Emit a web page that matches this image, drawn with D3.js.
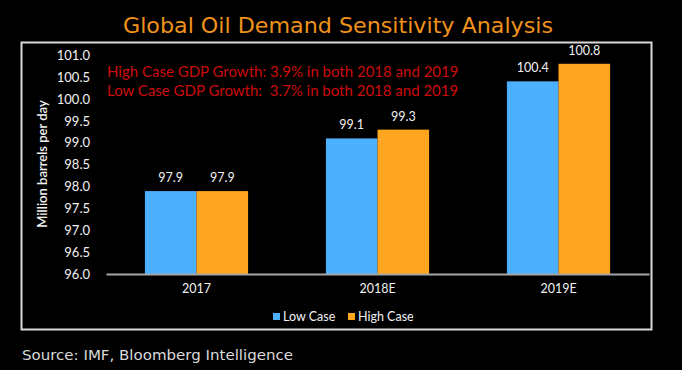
<!DOCTYPE html>
<html>
<head>
<meta charset="utf-8">
<script src="https://cdn.jsdelivr.net/npm/d3@7"></script>
<style>
	html, body { margin: 0; padding: 0; background: #000; }
	svg { display: block; }
</style>
</head>
<body>
<div id="chart"></div>
<script>
// chart values
var categories = ["2017", "2018E", "2019E"];
var seriesNames = ["Low Case", "High Case"];
var lowCase = [97.9, 99.1, 100.4];
var highCase = [97.9, 99.3, 100.8];
var yTicks = [96.0, 96.5, 97.0, 97.5, 98.0, 98.5, 99.0, 99.5, 100.0, 100.5, 101.0];
var notes = [
	"High Case GDP Growth: 3.9% in both 2018 and 2019",
	"Low Case GDP Growth:  3.7% in both 2018 and 2019"
];
var colors = ["#4db0ff", "#ffa51f"];

function makeChart() {
	var width = 682, height = 370;
	var font = "Lato, 'Open Sans', sans-serif";

	var svg = d3.select("#chart").append("svg")
		.attr("width", width)
		.attr("height", height)
		.style("background", "#000");

	// title
	svg.append("text")
		.attr("x", 338).attr("y", 33)
		.attr("text-anchor", "middle")
		.attr("fill", "#f0921c")
		.style("font-family", "'DejaVu Sans', sans-serif")
		.style("font-size", "21px")
		.attr("textLength", 430)
		.attr("lengthAdjust", "spacingAndGlyphs")
		.text("Global Oil Demand Sensitivity Analysis");

	// frame
	svg.append("rect")
		.attr("x", 21.5).attr("y", 42.5)
		.attr("width", 630).attr("height", 287)
		.attr("fill", "none")
		.attr("stroke", "#d9d9d9")
		.attr("stroke-width", 2);

	var y = d3.scaleLinear().domain([96, 101]).range([274.5, 55]);
	var x = d3.scaleBand().domain(categories).range([106, 649])
		.paddingInner(0.43).paddingOuter(0.215);
	var xs = d3.scaleBand().domain(seriesNames).range([0, x.bandwidth()]);

	// y labels
	var yAxis = svg.append("g")
		.attr("transform", "translate(90,0)")
		.call(d3.axisLeft(y).tickValues(yTicks).tickSize(0).tickPadding(0)
			.tickFormat(d3.format(".1f")));
	yAxis.select(".domain").remove();
	yAxis.selectAll("text")
		.attr("fill", "#f2f2f2")
		.style("font-family", font)
		.style("font-size", "13px");

	// y title
	svg.append("text")
		.attr("transform", "translate(47,164)rotate(-90)")
		.attr("text-anchor", "middle")
		.attr("fill", "#f2f2f2")
		.style("font-family", font)
		.style("font-size", "13px")
		.style("font-weight", "600")
		.text("Million barrels per day");

	// bars
	var rows = categories.map((c, i) => ({
		cat: c,
		vals: [
			{ name: seriesNames[0], v: lowCase[i], color: colors[0] },
			{ name: seriesNames[1], v: highCase[i], color: colors[1] }
		]
	}));

	var groups = svg.append("g").selectAll("g.grp")
		.data(rows).enter()
		.append("g").attr("class", "grp")
		.attr("transform", d => "translate(" + x(d.cat) + ",0)");

	groups.selectAll("rect")
		.data(d => d.vals).enter()
		.append("rect")
		.attr("x", d => xs(d.name))
		.attr("y", d => y(d.v))
		.attr("width", xs.bandwidth())
		.attr("height", d => y(96) - y(d.v))
		.attr("fill", d => d.color);

	groups.selectAll("text.val")
		.data(d => d.vals).enter()
		.append("text").attr("class", "val")
		.attr("x", d => xs(d.name) + xs.bandwidth() / 2)
		.attr("y", d => y(d.v) - 9)
		.attr("text-anchor", "middle")
		.attr("fill", "#f2f2f2")
		.style("font-family", font)
		.style("font-size", "12.5px")
		.text(d => d3.format(".1f")(d.v));

	// x axis
	var xAxis = svg.append("g")
		.attr("transform", "translate(0,274)")
		.call(d3.axisBottom(x).tickSize(0).tickPadding(10));
	xAxis.select(".domain").attr("stroke", "#a6a6a6").attr("stroke-width", 2);
	xAxis.selectAll("text")
		.attr("fill", "#f2f2f2")
		.style("font-family", font)
		.style("font-size", "12.5px");

	// notes
	svg.append("g").selectAll("text")
		.data(notes).enter()
		.append("text")
		.attr("x", 107)
		.attr("y", (d, i) => 77 + i * 19)
		.attr("fill", "#cc0c0c")
		.style("font-family", font)
		.style("font-size", "15px")
		.style("white-space", "pre")
		.attr("xml:space", "preserve")
		.text(d => d);

	// legend
	var legendX = [273, 348];
	var legend = svg.append("g").selectAll("g")
		.data(seriesNames).enter()
		.append("g")
		.attr("transform", (d, i) => "translate(" + legendX[i] + ",313)");
	legend.append("rect")
		.attr("width", 7).attr("height", 7)
		.attr("fill", (d, i) => colors[i]);
	legend.append("text")
		.attr("x", 10).attr("y", 8)
		.attr("fill", "#f2f2f2")
		.style("font-family", font)
		.style("font-size", "12.5px")
		.text(d => d);

	// source
	svg.append("text")
		.attr("x", 22).attr("y", 360)
		.attr("fill", "#d9d9d9")
		.style("font-family", "'DejaVu Sans', sans-serif")
		.style("font-size", "13.5px")
		.attr("textLength", 271)
		.attr("lengthAdjust", "spacingAndGlyphs")
		.text("Source: IMF, Bloomberg Intelligence");
}

window.addEventListener("DOMContentLoaded", makeChart);
</script>
</body>
</html>
